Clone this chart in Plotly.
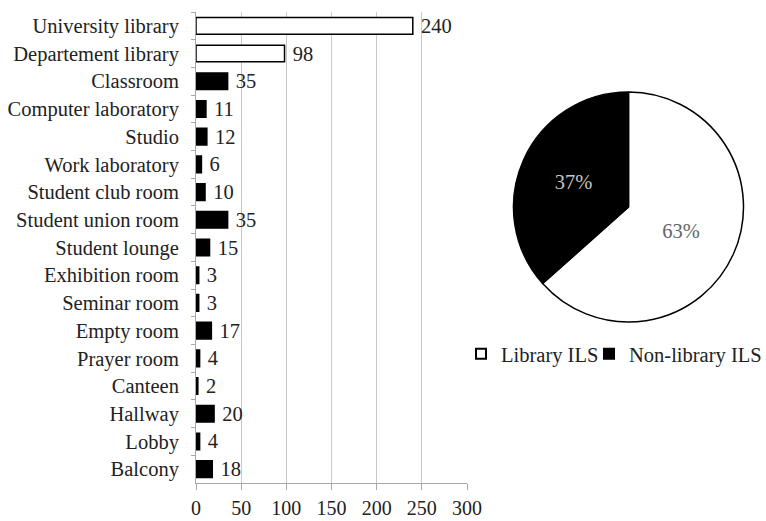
import plotly.graph_objects as go

locations = ["University library", "Departement library", "Classroom", "Computer laboratory",
             "Studio", "Work laboratory", "Student club room", "Student union room",
             "Student lounge", "Exhibition room", "Seminar room", "Empty room",
             "Prayer room", "Canteen", "Hallway", "Lobby", "Balcony"]
counts = [240, 98, 35, 11, 12, 6, 10, 35, 15, 3, 3, 17, 4, 2, 20, 4, 18]
groups = ["Library ILS", "Library ILS"] + ["Non-library ILS"] * 15

pie_labels = ["Library ILS", "Non-library ILS"]
pie_values = [sum(c for c, g in zip(counts, groups) if g == lab) for lab in pie_labels]

x_ticks = [0, 50, 100, 150, 200, 250, 300]

FONT = "Liberation Serif"
FS = 20.5
fill_map = {"Library ILS": "white", "Non-library ILS": "black"}

W, H = 766, 521
def px(x):
    return x / W
def py(y):
    return 1 - y / H

fig = go.Figure()
fig.add_trace(go.Bar(
    y=locations, x=counts, orientation="h",
    marker=dict(color=[fill_map[g] for g in groups], line=dict(color="black", width=1.5)),
    text=[str(c) for c in counts], texttemplate="\u00a0%{text}", textposition="outside",
    textfont=dict(family=FONT, size=FS, color="#222"), constraintext="none",
    cliponaxis=False, showlegend=False, width=0.6, hoverinfo="skip",
))
fig.add_trace(go.Pie(
    labels=pie_labels, values=pie_values, sort=False, direction="clockwise", rotation=0,
    marker=dict(colors=[fill_map[l] for l in pie_labels], line=dict(color="black", width=1.5)),
    textinfo="percent", texttemplate="%{percent:.0%}", textposition="inside",
    insidetextfont=dict(family=FONT, size=FS, color=["#666", "#c4c4c4"]),
    domain=dict(x=[px(513), px(744)], y=[py(322), py(92)]),
    showlegend=False,
))
# legend entries for the pie slices (one legend box per entry for exact spacing)
for lab, lg in zip(pie_labels, ["legend", "legend2"]):
    fig.add_trace(go.Scatter(
        x=[None], y=[None], mode="markers", name=lab, legend=lg, showlegend=True,
        marker=dict(symbol="square", size=10, color=fill_map[lab],
                    line=dict(color="black", width=2)),
    ))

legend_common = dict(orientation="h", xanchor="left", yanchor="middle",
                     font=dict(family=FONT, size=FS, color="#222"),
                     bgcolor="rgba(0,0,0,0)", itemwidth=30)

fig.update_layout(
    width=W, height=H,
    margin=dict(l=0, r=0, t=0, b=0, autoexpand=False),
    paper_bgcolor="white", plot_bgcolor="white",
    font=dict(family=FONT, size=FS, color="#222"),
    xaxis=dict(domain=[px(196), px(467)], range=[0, 300], tickvals=x_ticks,
               showgrid=True, gridcolor="#c8c8c8", gridwidth=1,
               showline=True, linecolor="#a8a8a8", linewidth=1,
               ticks="outside", ticklen=6, tickcolor="#a8a8a8",
               ticklabelstandoff=1, zeroline=False, automargin=False,
               tickfont=dict(family=FONT, size=20, color="#222")),
    yaxis=dict(domain=[py(483), py(12)], autorange="reversed",
               showline=True, linecolor="#a8a8a8", linewidth=1,
               ticks="outside", ticklen=4, tickcolor="#a8a8a8", tickson="boundaries",
               ticklabelstandoff=12, showgrid=False, automargin=False,
               tickfont=dict(family=FONT, size=FS, color="#222")),
    bargap=0.4,
    legend=dict(x=px(461), y=py(354), **legend_common),
    legend2=dict(x=px(589), y=py(354), **legend_common),
)

fig.write_html("out.html", config={"displayModeBar": False},
               post_script="document.body.style.margin='0px';document.body.style.overflow='hidden';")
